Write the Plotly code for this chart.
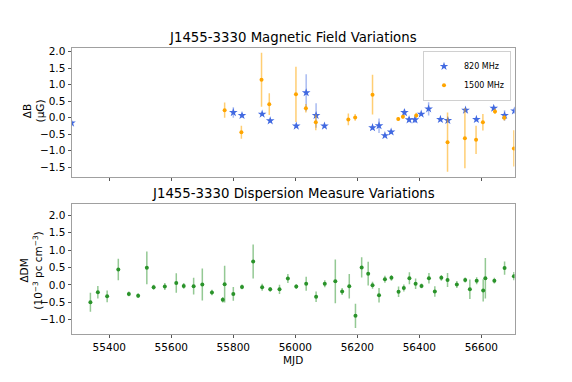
import plotly.graph_objects as go

# 820 MHz magnetic field points
mjd_820 = [55278, 55800, 55828, 55893, 55919, 56003, 56035, 56067, 56094, 56249,
           56270, 56289, 56309, 56352, 56367, 56386, 56406, 56430, 56468, 56492,
           56549, 56584, 56640, 56675, 56707]
db_820 = [-0.16, 0.16, 0.07, 0.11, -0.09, -0.25, 0.76, 0.07, -0.25, -0.30,
          -0.24, -0.54, -0.43, 0.16, -0.06, -0.06, 0.11, 0.27, -0.05, -0.08,
          0.23, -0.05, 0.29, 0.07, 0.21]
err_820 = [0.05, 0.16, 0.06, 0.06, 0.06, 0.05, 0.56, 0.37, 0.05, 0.06,
           0.22, 0.05, 0.05, 0.10, 0.08, 0.10, 0.05, 0.20, 0.05, 0.06,
           0.05, 0.05, 0.05, 0.16, 0.10]

# 1500 MHz magnetic field points
mjd_1500 = [55772, 55826, 55891, 55916, 56002, 56034, 56066, 56171, 56193, 56249,
            56332, 56347, 56390, 56491, 56547, 56583, 56605, 56644, 56674, 56705]
db_1500 = [0.23, -0.44, 1.15, 0.41, 0.71, 0.29, -0.14, -0.05, 0.01, 0.70,
           -0.04, 0.03, 0.07, -0.74, -0.62, -0.67, -0.14, 0.19, 0.00, -0.93]
err_1500 = [0.23, 0.20, 0.82, 0.33, 0.84, 0.13, 0.24, 0.18, 0.10, 0.60,
            0.06, 0.06, 0.08, 0.90, 0.91, 0.43, 0.25, 0.08, 0.08, 0.55]

# dispersion measure points
mjd_dm = [55339, 55363, 55393, 55429, 55463, 55493, 55521, 55543, 55579, 55616,
          55640, 55672, 55700, 55731, 55766, 55772, 55800, 55828, 55864, 55893,
          55919, 55949, 55976, 56003, 56035, 56067, 56095, 56129, 56151, 56174,
          56194, 56214, 56235, 56249, 56270, 56289, 56310, 56333, 56350, 56368,
          56388, 56407, 56431, 56450, 56471, 56491, 56521, 56548, 56563, 56585,
          56606, 56613, 56642, 56675, 56705]
ddm = [-0.50, -0.21, -0.33, 0.44, -0.26, -0.31, 0.49, -0.07, -0.05, 0.05,
       -0.03, -0.04, 0.01, -0.22, -0.43, 0.02, -0.26, -0.06, 0.67, -0.07,
       -0.13, -0.13, 0.18, -0.05, 0.03, -0.34, 0.03, 0.10, -0.19, -0.04,
       -0.89, 0.50, 0.32, -0.01, -0.30, 0.16, 0.20, -0.20, -0.09, 0.19,
       0.03, -0.03, 0.19, -0.19, 0.20, 0.14, 0.01, 0.14, -0.13, 0.12,
       -0.16, 0.19, 0.12, 0.48, 0.25]
err_dm = [0.27, 0.18, 0.17, 0.31, 0.07, 0.07, 0.47, 0.07, 0.10, 0.28,
          0.08, 0.24, 0.46, 0.08, 0.08, 0.53, 0.20, 0.07, 0.49, 0.10,
          0.07, 0.13, 0.13, 0.07, 0.20, 0.15, 0.10, 0.63, 0.10, 0.35,
          0.35, 0.29, 0.34, 0.10, 0.21, 0.10, 0.08, 0.15, 0.10, 0.17,
          0.15, 0.07, 0.15, 0.15, 0.08, 0.20, 0.10, 0.07, 0.28, 0.10,
          0.32, 0.58, 0.08, 0.19, 0.12]

mjd_ticks = [55400, 55600, 55800, 56000, 56200, 56400, 56600]

W, H = 572, 382
OFF = 8  # page body margin shifts the figure by 8px
font = 'DejaVu Sans'


def fx(px):
    return (px - OFF) / W


def fy(py):
    return 1 - (py - OFF) / H


fig = go.Figure()

fig.add_trace(go.Scatter(
    x=mjd_820, y=db_820, mode='markers', name='820 MHz',
    marker=dict(symbol='star', size=6.5, color='royalblue'),
    error_y=dict(type='data', array=err_820, color='rgba(65,105,225,0.45)', thickness=1.5, width=0),
    xaxis='x', yaxis='y'))
fig.add_trace(go.Scatter(
    x=mjd_1500, y=db_1500, mode='markers', name='1500 MHz',
    marker=dict(symbol='circle', size=4, color='orange'),
    error_y=dict(type='data', array=err_1500, color='rgba(255,165,0,0.55)', thickness=1.5, width=0),
    xaxis='x', yaxis='y'))
fig.add_trace(go.Scatter(
    x=mjd_dm, y=ddm, mode='markers', showlegend=False,
    marker=dict(symbol='circle', size=4, color='#2a932a'),
    error_y=dict(type='data', array=err_dm, color='rgba(42,147,42,0.5)', thickness=1.5, width=0),
    xaxis='x2', yaxis='y2'))

xdom = [fx(71.5), fx(514.5)]
axis_common = dict(
    showline=True, mirror=True, linecolor='#a0a0a0', linewidth=1,
    showgrid=False, zeroline=False, ticks='outside', ticklen=3, tickcolor='#555',
    tickfont=dict(family=font, size=10.5, color='black'))

fig.update_layout(
    width=W, height=H,
    margin=dict(l=0, r=0, t=0, b=0),
    plot_bgcolor='white', paper_bgcolor='white',
    font=dict(family=font, color='black'),
    showlegend=True,
    legend=dict(x=fx(511), y=fy(49), xanchor='right', yanchor='top',
                bgcolor='white', bordercolor='#d0d0d0', borderwidth=1,
                font=dict(family=font, size=8), tracegroupgap=0, itemwidth=30),
    xaxis=dict(domain=xdom, range=[55278, 56707], anchor='y', showticklabels=False,
               tickvals=mjd_ticks, **axis_common),
    yaxis=dict(domain=[fy(176), fy(45.7)], range=[-1.80, 2.13], anchor='x',
               tickvals=[-1.5, -1.0, -0.5, 0.0, 0.5, 1.0, 1.5, 2.0], tickformat='.1f',
               **axis_common),
    xaxis2=dict(domain=xdom, range=[55278, 56707], anchor='y2',
                tickvals=mjd_ticks, tickformat='d', **axis_common),
    yaxis2=dict(domain=[fy(334), fy(202.7)], range=[-1.42, 2.33], anchor='x2',
                tickvals=[-1.0, -0.5, 0.0, 0.5, 1.0, 1.5, 2.0], tickformat='.1f',
                **axis_common),
)

# panel titles
fig.add_annotation(text='J1455-3330 Magnetic Field Variations', x=fx(293), y=fy(45),
                   xref='paper', yref='paper', xanchor='center', yanchor='bottom',
                   showarrow=False, font=dict(family=font, size=13.3))
fig.add_annotation(text='J1455-3330 Dispersion Measure Variations', x=fx(293), y=fy(202),
                   xref='paper', yref='paper', xanchor='center', yanchor='bottom',
                   showarrow=False, font=dict(family=font, size=13.3))

# axis labels
fig.add_annotation(text='MJD', x=fx(293), y=fy(352), xref='paper', yref='paper',
                   xanchor='center', yanchor='top', showarrow=False,
                   font=dict(family=font, size=10.5))
fig.add_annotation(text='ΔB<br>(μG)', x=fx(34), y=fy(110), xref='paper', yref='paper',
                   xanchor='center', yanchor='middle',
                   textangle=-90, showarrow=False, font=dict(family=font, size=10.5))
fig.add_annotation(text='ΔDM<br>(10<sup>−3</sup> pc cm<sup>−3</sup>)', x=fx(31), y=fy(270),
                   xref='paper', yref='paper', xanchor='center', yanchor='middle',
                   textangle=-90, showarrow=False, font=dict(family=font, size=10.5))

fig.write_html("out.html")
